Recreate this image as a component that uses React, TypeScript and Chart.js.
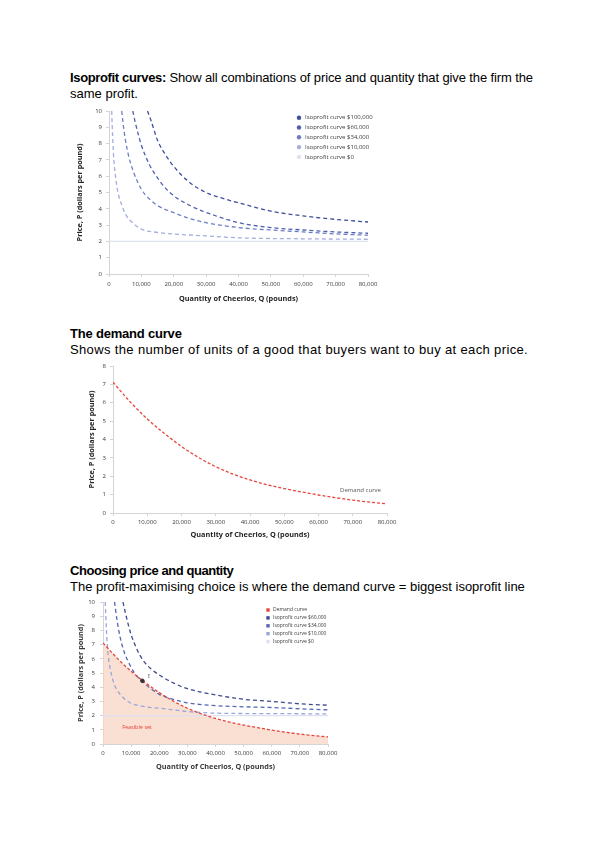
import React, { useEffect, useRef } from "react";
import { Chart, registerables } from "chart.js";
Chart.register(...registerables);

// ---------- data ----------
const xTickValues = [0, 10000, 20000, 30000, 40000, 50000, 60000, 70000, 80000];

// Chart 1: isoprofit curves
const iso100Q = [11900, 13000, 15000, 17500, 20000, 25000, 30000, 35000, 40000, 50000, 60000, 70000, 80000];
const iso100P = [10, 9.4, 8.2, 7.3, 6.6, 5.6, 5.0, 4.65, 4.37, 3.86, 3.56, 3.35, 3.19];
const iso60Q = [7350, 8000, 9000, 10000, 12500, 15000, 17500, 20000, 25000, 30000, 40000, 50000, 60000, 70000, 80000];
const iso60P = [10, 9.4, 8.6, 7.9, 6.7, 5.9, 5.25, 4.8, 4.2, 3.78, 3.15, 2.85, 2.7, 2.58, 2.5];
const iso34Q = [3930, 4500, 5000, 6000, 7500, 10000, 12500, 15000, 20000, 25000, 30000, 40000, 50000, 60000, 70000, 80000];
const iso34P = [10, 9.0, 8.3, 7.3, 6.3, 5.2, 4.6, 4.2, 3.76, 3.4, 3.15, 2.85, 2.7, 2.58, 2.46, 2.38];
const iso10Q = [830, 1000, 1250, 1500, 2000, 2500, 3000, 4000, 5000, 7500, 10000, 15000, 20000, 30000, 40000, 60000, 80000];
const iso10P = [10, 9.0, 7.9, 7.0, 6.0, 5.3, 4.8, 4.2, 3.7, 3.1, 2.75, 2.55, 2.45, 2.34, 2.22, 2.16, 2.13];
const iso0Q = [0, 80000];
const iso0P = [2, 2];
const chart1Labels = [
  "Isoprofit curve $100,000",
  "Isoprofit curve $60,000",
  "Isoprofit curve $34,000",
  "Isoprofit curve $10,000",
  "Isoprofit curve $0",
];

// Chart 2 & 3: demand curve
const demandQ = [0, 5000, 10000, 15000, 20000, 25000, 30000, 35000, 40000, 45000, 50000, 55000, 60000, 65000, 70000, 75000, 80000];
const demandP = [7.12, 6.05, 5.12, 4.33, 3.62, 3.02, 2.52, 2.12, 1.8, 1.54, 1.33, 1.15, 0.98, 0.83, 0.7, 0.59, 0.5];

// Chart 3: isoprofit curves
const c3iso60Q = [7100, 8000, 9000, 10000, 12000, 14200, 17000, 20000, 25000, 30000, 40000, 50000, 60000, 70000, 80000];
const c3iso60P = [10, 9.2, 8.4, 7.7, 6.7, 5.9, 5.3, 4.86, 4.3, 3.9, 3.46, 3.15, 3.0, 2.83, 2.73];
const c3iso34Q = [4100, 5000, 6000, 7500, 10000, 12000, 14000, 17000, 20000, 25000, 30000, 40000, 50000, 60000, 70000, 80000];
const c3iso34P = [10, 8.7, 7.6, 6.5, 5.4, 4.8, 4.4, 3.9, 3.5, 3.15, 2.9, 2.7, 2.62, 2.57, 2.48, 2.4];
const c3iso10Q = [800, 1000, 1250, 1500, 2000, 3000, 4000, 5000, 7500, 10000, 15000, 20000, 30000, 40000, 60000, 80000];
const c3iso10P = [10, 9.0, 7.9, 7.0, 6.0, 4.9, 4.2, 3.8, 3.2, 2.87, 2.62, 2.52, 2.29, 2.17, 2.14, 2.12];
const c3iso0Q = [0, 80000];
const c3iso0P = [2, 2];
const pointEQ = [14000];
const pointEP = [4.45];
const chart3Labels = [
  "Demand curve",
  "Isoprofit curve $60,000",
  "Isoprofit curve $34,000",
  "Isoprofit curve $10,000",
  "Isoprofit curve $0",
];

const xTitle = "Quantity of Cheerios, Q (pounds)";
const yTitle = "Price, P (dollars per pound)";

// ---------- styling helpers ----------
const FAM = "'Open Sans', 'DejaVu Sans', sans-serif";
const AXIS = "#d4d4d4";
const TICK = "#3a3a3a";

const pts = (qs: number[], ps: number[]) => qs.map((q, i) => ({ x: q, y: ps[i] }));

function lineDs(label: string, qs: number[], ps: number[], color: string, extra: any = {}) {
  return {
    label,
    data: pts(qs, ps),
    borderColor: color,
    backgroundColor: color,
    borderWidth: 1.3,
    borderDash: [4, 3],
    pointRadius: 0,
    cubicInterpolationMode: "monotone",
    fill: false,
    ...extra,
  };
}

function scales(o: any) {
  return {
    x: {
      type: "linear",
      min: 0,
      max: 80000,
      afterBuildTicks: (s: any) => {
        s.ticks = xTickValues.map((v) => ({ value: v }));
      },
      ticks: {
        padding: o.xTickPad,
        color: TICK,
        font: { family: FAM, size: 6 },
        maxRotation: 0,
        autoSkip: false,
        callback: (v: any) => Number(v).toLocaleString("en-US"),
      },
      grid: { drawOnChartArea: false, tickLength: 3, color: AXIS },
      border: { color: AXIS },
      title: {
        display: true,
        text: xTitle,
        color: o.titleColor,
        font: { family: FAM, size: 7.3, weight: "bold" },
        padding: 0,
      },
      afterFit: (s: any) => {
        s.height = o.xH;
      },
    },
    y: {
      type: "linear",
      min: 0,
      max: o.yMax,
      ticks: {
        stepSize: 1,
        padding: o.yTickPad,
        color: TICK,
        font: { family: FAM, size: 6 },
      },
      grid: { drawOnChartArea: false, tickLength: 3, color: AXIS },
      border: { color: AXIS },
      title: {
        display: true,
        text: yTitle,
        color: o.titleColor,
        font: { family: FAM, size: 7.3, weight: "bold" },
        padding: { top: o.yTitlePad, bottom: 0 },
      },
      afterFit: (s: any) => {
        s.width = o.yW;
      },
    },
  };
}

const customLegend = {
  id: "customLegend",
  afterDraw(chart: any, _a: any, opts: any) {
    if (!opts || !opts.items) return;
    const ctx = chart.ctx;
    ctx.save();
    ctx.font = `${opts.size}px ${FAM}`;
    ctx.textBaseline = "middle";
    ctx.textAlign = "left";
    opts.items.forEach((it: any, i: number) => {
      const y = opts.y + i * opts.dy;
      ctx.fillStyle = it.color;
      if (opts.marker === "circle") {
        ctx.beginPath();
        ctx.arc(opts.x, y, 2.2, 0, Math.PI * 2);
        ctx.fill();
      } else {
        ctx.fillRect(opts.x - 1.7, y - 1.7, 3.4, 3.4);
      }
      ctx.fillStyle = "#3a3a3a";
      ctx.fillText(it.text, opts.textX, y);
    });
    ctx.restore();
  },
};

const annotations = {
  id: "annotations",
  afterDatasetsDraw(chart: any, _a: any, opts: any) {
    if (!opts || !opts.items) return;
    const ctx = chart.ctx;
    const xs = chart.scales.x;
    const ys = chart.scales.y;
    ctx.save();
    ctx.textBaseline = "middle";
    ctx.textAlign = "left";
    opts.items.forEach((it: any) => {
      ctx.font = `${it.size}px ${FAM}`;
      ctx.fillStyle = it.color;
      ctx.fillText(it.text, xs.getPixelForValue(it.x), ys.getPixelForValue(it.y));
    });
    ctx.restore();
  },
};

// ---------- chart configs ----------
const isoColors1 = ["#3f4f9c", "#4f60b0", "#6d7ec6", "#a3addf", "#dde1f2"];
const isoColors3 = ["#3d4a8f", "#5466b5", "#9aa6dc", "#dde1f2"];
const demandRed = "#e8443a";

function config1() {
  return {
    type: "line",
    data: {
      datasets: [
        lineDs(chart1Labels[0], iso100Q, iso100P, isoColors1[0]),
        lineDs(chart1Labels[1], iso60Q, iso60P, isoColors1[1]),
        lineDs(chart1Labels[2], iso34Q, iso34P, isoColors1[2]),
        lineDs(chart1Labels[3], iso10Q, iso10P, isoColors1[3]),
        lineDs(chart1Labels[4], iso0Q, iso0P, isoColors1[4], { borderDash: [] }),
      ],
    },
    options: {
      responsive: false,
      animation: false,
      layout: { padding: { left: 0, top: 11, right: 32, bottom: 7 } },
      plugins: {
        legend: { display: false },
        tooltip: { enabled: false },
        customLegend: {
          x: 239,
          y: 17.7,
          dy: 9.8,
          textX: 245,
          size: 6,
          marker: "circle",
          items: chart1Labels.map((t, i) => ({ text: t, color: isoColors1[i] })),
        },
      },
      scales: scales({ yMax: 10, yW: 49, xH: 29, xTickPad: 4, yTickPad: 4, yTitlePad: 16, titleColor: "#262626" }),
    },
    plugins: [customLegend],
  };
}

function config2() {
  return {
    type: "line",
    data: {
      datasets: [lineDs("Demand curve", demandQ, demandP, demandRed, { borderDash: [3, 2] })],
    },
    options: {
      responsive: false,
      animation: false,
      layout: { padding: { left: 0, top: 11, right: 13, bottom: 6 } },
      plugins: {
        legend: { display: false },
        tooltip: { enabled: false },
        annotations: {
          items: [{ text: "Demand curve", x: 66300, y: 1.25, size: 6, color: "#555555" }],
        },
      },
      scales: scales({ yMax: 8, yW: 53, xH: 26, xTickPad: 3, yTickPad: 4, yTitlePad: 28, titleColor: "#262626" }),
    },
    plugins: [annotations],
  };
}

function config3() {
  return {
    type: "line",
    data: {
      datasets: [
        {
          type: "scatter",
          label: "E",
          data: pts(pointEQ, pointEP),
          pointRadius: 1.8,
          backgroundColor: "#333333",
          borderColor: "#333333",
          order: 0,
        },
        lineDs(chart3Labels[0], demandQ, demandP, demandRed, {
          fill: "origin",
          backgroundColor: "rgba(247, 214, 196, 0.75)",
          borderDash: [3, 2],
          order: 1,
        }),
        lineDs(chart3Labels[1], c3iso60Q, c3iso60P, isoColors3[0], { order: 2 }),
        lineDs(chart3Labels[2], c3iso34Q, c3iso34P, isoColors3[1], { order: 3 }),
        lineDs(chart3Labels[3], c3iso10Q, c3iso10P, isoColors3[2], { order: 4 }),
        lineDs(chart3Labels[4], c3iso0Q, c3iso0P, isoColors3[3], { borderDash: [], order: 5 }),
      ],
    },
    options: {
      responsive: false,
      animation: false,
      layout: { padding: { left: 0, top: 12, right: 32, bottom: 9 } },
      plugins: {
        legend: { display: false },
        tooltip: { enabled: false },
        filler: { drawTime: "beforeDatasetsDraw" },
        customLegend: {
          x: 228,
          y: 20,
          dy: 7.9,
          textX: 233,
          size: 5,
          marker: "square",
          items: chart3Labels.map((t, i) => ({ text: t, color: i === 0 ? demandRed : isoColors3[i - 1] })),
        },
        annotations: {
          items: [
            { text: "Feasible set", x: 6800, y: 1.2, size: 5.5, color: "#e8443a" },
            { text: "E", x: 15800, y: 4.75, size: 5, color: "#888888" },
          ],
        },
      },
      scales: scales({ yMax: 10, yW: 63, xH: 27, xTickPad: 3, yTickPad: 5, yTitlePad: 37, titleColor: "#3a3a3a" }),
    },
    plugins: [customLegend, annotations],
  };
}

function ChartCanvas({ left, top, width, height, make }: any) {
  const ref = useRef<HTMLCanvasElement | null>(null);
  useEffect(() => {
    if (!ref.current) return;
    const chart = new Chart(ref.current, make() as any);
    return () => chart.destroy();
  }, []);
  return (
    <canvas
      ref={ref}
      width={width}
      height={height}
      style={{ position: "absolute", left, top, width, height }}
    />
  );
}

const textStyle: React.CSSProperties = {
  position: "absolute",
  left: 70,
  fontFamily: "'Liberation Sans', Arial, sans-serif",
  fontSize: 13,
  lineHeight: "16px",
  color: "#000",
  margin: 0,
  whiteSpace: "nowrap",
};

export default function App() {
  return (
    <div style={{ position: "absolute", left: 0, top: 0, width: 600, height: 848, background: "#fff", overflow: "hidden" }}>
      <div style={{ ...textStyle, top: 70 }}>
        <b style={{ letterSpacing: "-0.35px" }}>Isoprofit curves:</b>
        <span style={{ letterSpacing: "-0.12px" }}> Show all combinations of price and quantity that give the firm the</span>
        <br />
        same profit.
      </div>
      <ChartCanvas left={60} top={100} width={340} height={210} make={config1} />

      <div style={{ ...textStyle, top: 326 }}>
        <b style={{ letterSpacing: "-0.2px" }}>The demand curve</b>
        <br />
        <span style={{ letterSpacing: "0.36px" }}>Shows the number of units of a good that buyers want to buy at each price.</span>
      </div>
      <ChartCanvas left={60} top={355} width={340} height={190} make={config2} />

      <div style={{ ...textStyle, top: 563 }}>
        <b style={{ letterSpacing: "-0.45px" }}>Choosing price and quantity</b>
        <br />
        The profit-maximising choice is where the demand curve = biggest isoprofit line
      </div>
      <ChartCanvas left={40} top={590} width={320} height={190} make={config3} />
    </div>
  );
}
